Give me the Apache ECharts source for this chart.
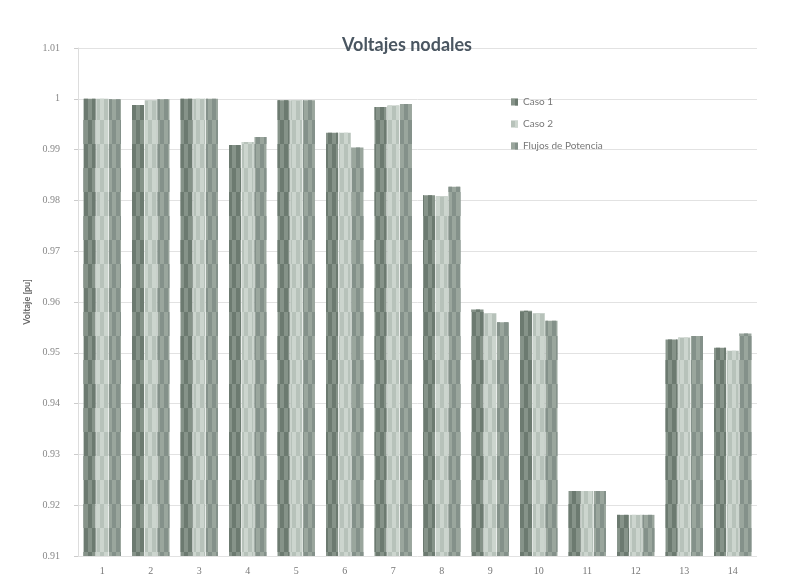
<!DOCTYPE html>
<html>
<head>
<meta charset="utf-8">
<script src="https://cdn.jsdelivr.net/npm/echarts@6/dist/echarts.min.js"></script>
<style>
  html, body { margin: 0; padding: 0; background: #ffffff; }
  #chart { width: 786px; height: 583px; }
</style>
</head>
<body>
<div id="chart"></div>
<script>
// Nodos del sistema
const nodos = ['1', '2', '3', '4', '5', '6', '7', '8', '9', '10', '11', '12', '13', '14'];

// Tensiones en p.u. por caso
const caso1 = [1.0000, 0.9988, 1.0000, 0.9909, 0.9997, 0.9933, 0.9984, 0.9810, 0.9585, 0.9583, 0.9228, 0.9181, 0.9526, 0.9510];
const caso2 = [1.0000, 0.9997, 1.0000, 0.9915, 0.9997, 0.9933, 0.9987, 0.9808, 0.9578, 0.9578, 0.9228, 0.9181, 0.9530, 0.9504];
const flujos = [0.9999, 0.9999, 1.0000, 0.9925, 0.9997, 0.9904, 0.9990, 0.9827, 0.9560, 0.9563, 0.9228, 0.9181, 0.9533, 0.9538];

// Etiquetas del eje vertical
const etiquetasY = ['0.91', '0.92', '0.93', '0.94', '0.95', '0.96', '0.97', '0.98', '0.99', '1', '1.01'];

const nombres = ['Caso 1', 'Caso 2', 'Flujos de Potencia'];
const colores = ['#869389', '#b7c2ba', '#9aa69d'];
const texturas = ['#6c7a70', '#ccd5ce', '#84918a'];

const chart = echarts.init(document.getElementById('chart'), null, { renderer: 'canvas' });

function serie(nombre, datos, i) {
  return {
    name: nombre,
    type: 'bar',
    data: datos,
    barWidth: 12,
    barGap: '6%',
    itemStyle: {
      color: colores[i],
      decal: {
        symbol: 'rect',
        color: texturas[i],
        dashArrayX: [[4, 4], [0, 4, 4, 0]],
        dashArrayY: [24, 0],
        symbolSize: 1,
        rotation: 0
      }
    }
  };
}

chart.setOption({
  backgroundColor: '#ffffff',
  animation: false,
  title: {
    text: 'Voltajes nodales',
    left: 402,
    top: 31,
    textAlign: 'center',
    textStyle: { fontFamily: 'Lato', fontWeight: 'bold', fontSize: 18, color: '#4a5661' }
  },
  legend: {
    orient: 'vertical',
    left: 506,
    top: 92,
    itemWidth: 7,
    itemHeight: 7,
    itemGap: 12,
    icon: 'rect',
    textStyle: { fontFamily: 'Lato', fontSize: 10, color: '#777' },
    data: nombres
  },
  grid: { left: 78, right: 29, top: 48, bottom: 27 },
  xAxis: {
    type: 'category',
    data: nodos,
    axisLine: { show: false },
    axisTick: { show: false },
    axisLabel: { fontFamily: 'Liberation Serif', fontSize: 10, color: '#777', margin: 10 }
  },
  yAxis: {
    type: 'value',
    min: 0.91,
    max: 1.01,
    interval: 0.01,
    name: 'Voltaje [pu]',
    nameLocation: 'middle',
    nameGap: 44,
    nameRotate: 90,
    nameTextStyle: { fontFamily: 'Lato', fontSize: 9, fontWeight: 'bold', color: '#666' },
    axisLine: { show: true, lineStyle: { color: '#dddddd' } },
    axisTick: { show: true, length: 4, lineStyle: { color: '#cccccc' } },
    splitLine: { show: true, lineStyle: { color: '#e2e2e2' } },
    axisLabel: {
      fontFamily: 'Liberation Serif',
      fontSize: 10,
      color: '#888',
      margin: 18,
      formatter: function (v) {
        const idx = Math.round((v - 0.91) / 0.01);
        return etiquetasY[idx] !== undefined ? etiquetasY[idx] : '';
      }
    }
  },
  series: [serie(nombres[0], caso1, 0), serie(nombres[1], caso2, 1), serie(nombres[2], flujos, 2)]
});
</script>
</body>
</html>
